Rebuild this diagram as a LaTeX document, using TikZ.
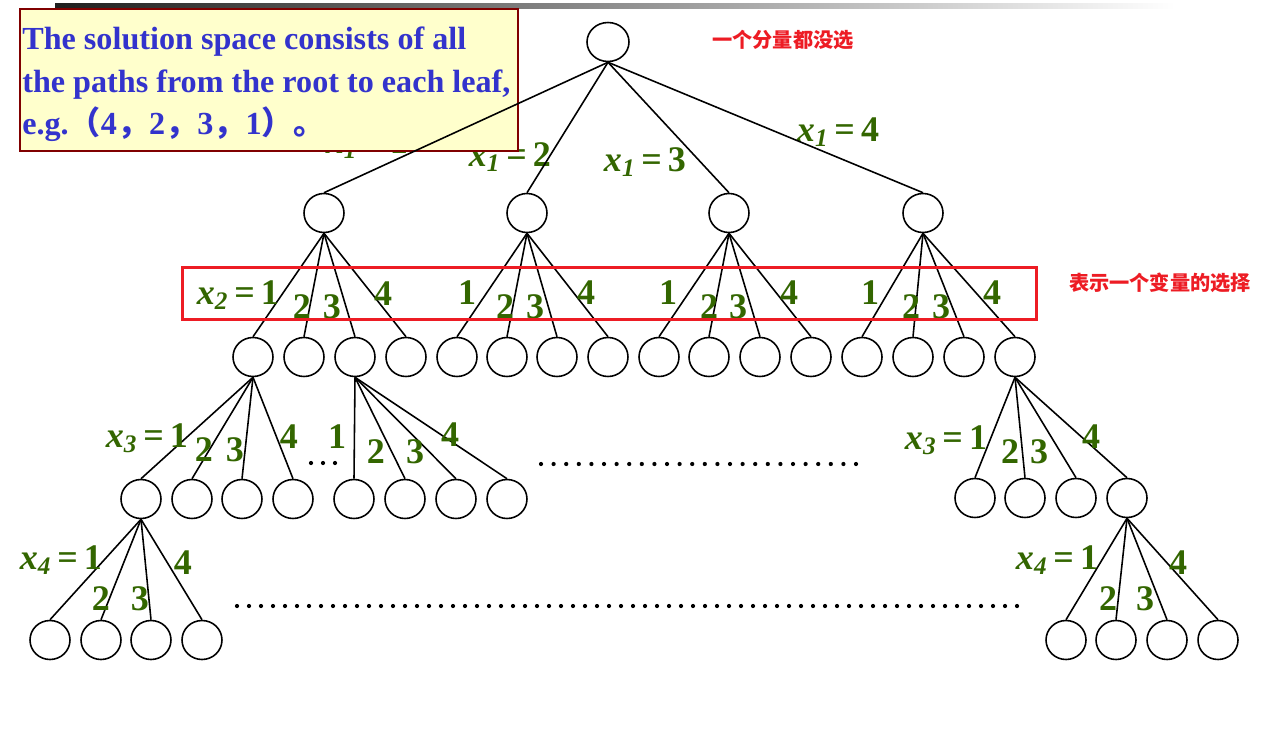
\documentclass[tikz,border=0pt]{standalone}
\usepackage{fontspec}
\setmainfont{Liberation Serif}
\newfontfamily\cjk{Noto Sans CJK SC}
\usetikzlibrary{shapes.geometric}
\definecolor{lg}{RGB}{51,102,0}
\definecolor{tb}{RGB}{51,51,204}
\definecolor{boxfill}{RGB}{255,255,204}
\definecolor{boxline}{RGB}{128,0,0}
\definecolor{rd}{RGB}{237,28,36}
\newcommand{\xl}[2]{\textit{x}\textsubscript{\textit{#1}}\,=\,#2}
\begin{document}
\begin{tikzpicture}[x=0.02cm,y=-0.02cm,
  nd/.style={ellipse,draw,line width=0.9pt,inner sep=0pt,minimum width=0.8cm,minimum height=0.78cm,fill=white},
  ed/.style={line width=0.9pt},
  lab/.style={text=lg,font=\fontsize{20.5}{20}\selectfont\bfseries,inner sep=0pt},
  redlab/.style={text=rd,font=\cjk\fontsize{11.5}{12}\selectfont\bfseries,inner sep=0pt},
  btxt/.style={text=tb,font=\fontsize{18.3}{20}\selectfont\bfseries,inner sep=0pt,anchor=base west}]
\useasboundingbox (0,0) rectangle (1264,747);
\fill[white] (0,0) rectangle (1264,747);
\shade[left color=black!88, right color=white] (55,3) rectangle (1175,8);

% nodes
\node[nd,minimum width=0.84cm] (r) at (608,42) {};
\foreach \x [count=\i] in {324,527,729,923} \node[nd] (a\i) at (\x,213) {};
\foreach \x [count=\i] in {253,304,355,406,457,507,557,608,659,709,760,811,862,913,964,1015}
  \node[nd] (b\i) at (\x,357) {};
\foreach \x [count=\i] in {141,192,242,293} \node[nd] (c\i) at (\x,499) {};
\foreach \x [count=\i] in {354,405,456,507} \node[nd] (d\i) at (\x,499) {};
\foreach \x [count=\i] in {975,1025,1076,1127} \node[nd] (e\i) at (\x,498) {};
\foreach \x [count=\i] in {50,101,151,202} \node[nd] (f\i) at (\x,640) {};
\foreach \x [count=\i] in {1066,1116,1167,1218} \node[nd] (g\i) at (\x,640) {};

% labels level 1
\node[lab] (l11) at (367,144) {\xl{1}{1}};
\node[lab] (l12) at (510,157) {\xl{1}{2}};
\node[lab] (l13) at (645,162) {\xl{1}{3}};
\node[lab] (l14) at (838,132) {\xl{1}{4}};

% text box
\node[draw=boxline, fill=boxfill, line width=1.2pt, anchor=north west,
      minimum width=9.96cm, minimum height=2.84cm, inner sep=0pt] (box) at (19,8) {};
\node[btxt] (t1) at (22,50) {The solution space consists of all};
\node[btxt] (t2) at (22,92) {the paths from the root to each leaf,};
\node[btxt] (t3) at (22,134) {e.g.{\cjk （}4{\cjk ，}2{\cjk ，}3{\cjk ，}1{\cjk ）。}};

% edges
\foreach \i in {1,...,4} \draw[ed] (r.south) -- (a\i.north);
\foreach \p in {1,...,4} \foreach \k in {1,...,4} {
  \pgfmathtruncatemacro\c{(\p-1)*4+\k}
  \draw[ed] (a\p.south) -- (b\c.north);
}
\foreach \i in {1,...,4} {
  \draw[ed] (b1.south) -- (c\i.north);
  \draw[ed] (b3.south) -- (d\i.north);
  \draw[ed] (b16.south) -- (e\i.north);
  \draw[ed] (c1.south) -- (f\i.north);
  \draw[ed] (e4.south) -- (g\i.north);
}

% level 2 labels
\node[lab] (l21) at (238,295) {\xl{2}{1}};
\node[lab] (m12) at (302,307) {2};
\node[lab] (m13) at (332,307) {3};
\node[lab] (m14) at (383,294) {4};
\node[lab] (m21) at (467,293) {1};
\node[lab] (m22) at (505,307) {2};
\node[lab] (m23) at (535,307) {3};
\node[lab] (m24) at (586,293) {4};
\node[lab] (m31) at (668,293) {1};
\node[lab] (m32) at (709,307) {2};
\node[lab] (m33) at (738,307) {3};
\node[lab] (m34) at (789,293) {4};
\node[lab] (m41) at (870,293) {1};
\node[lab] (m42) at (911,307) {2};
\node[lab] (m43) at (941,307) {3};
\node[lab] (m44) at (992,293) {4};

% selection rectangle
\node[draw=rd, line width=1.7pt, anchor=north west, minimum width=17.08cm,
      minimum height=1.04cm, inner sep=0pt] (sel) at (181,266) {};
\node[redlab] (rl1) at (783,40) {一个分量都没选};
\node[redlab] (rl2) at (1160,283) {表示一个变量的选择};

% level 3 labels
\node[lab] (l31) at (147,438) {\xl{3}{1}};
\node[lab] (n12) at (204,450) {2};
\node[lab] (n13) at (235,450) {3};
\node[lab] (n14) at (289,437) {4};
\node[lab] (n21) at (337,437) {1};
\node[lab] (n22) at (376,452) {2};
\node[lab] (n23) at (415,452) {3};
\node[lab] (n24) at (450,435) {4};
\node[lab] (l32) at (946,440) {\xl{3}{1}};
\node[lab] (n32) at (1010,452) {2};
\node[lab] (n33) at (1039,452) {3};
\node[lab] (n34) at (1091,437) {4};

% level 4 labels
\node[lab] (l41) at (61,560) {\xl{4}{1}};
\node[lab] (o12) at (101,599) {2};
\node[lab] (o13) at (140,599) {3};
\node[lab] (o14) at (183,563) {4};
\node[lab] (l42) at (1057,560) {\xl{4}{1}};
\node[lab] (o22) at (1108,599) {2};
\node[lab] (o23) at (1145,599) {3};
\node[lab] (o24) at (1178,563) {4};

% dots
\foreach \x in {311,323,335} \fill (\x,463) circle (1.2pt);
\foreach \x in {541,553.6,...,857} \fill (\x,464) circle (1.2pt);
\foreach \x in {237,249,...,1018} \fill (\x,606) circle (1.2pt);
\end{tikzpicture}
\end{document}
